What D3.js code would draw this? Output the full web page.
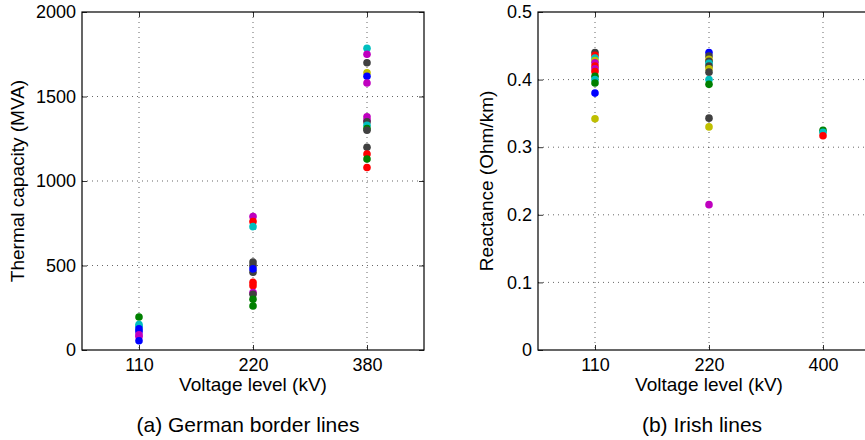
<!DOCTYPE html>
<html>
<head>
<meta charset="utf-8">
<script src="https://cdn.jsdelivr.net/npm/d3@7"></script>
<style>
  html, body { margin: 0; padding: 0; background: #fff; }
  svg { display: block; font-family: "Liberation Sans", Arial, sans-serif; }
</style>
</head>
<body>
<svg id="chart" width="865" height="440"></svg>
<script>
// Voltage categories for each panel
const germanLevels = ["110", "220", "380"];
const irishLevels = ["110", "220", "400"];

// German border lines: thermal capacity (MVA) per line, with the colour code of its marker
const germanLevel = ["110","110","110","110","110","110","110","110",
  "220","220","220","220","220","220","220","220","220","220","220","220","220",
  "380","380","380","380","380","380","380","380","380","380","380","380","380","380","380","380"];
const germanMVA = [195, 150, 140, 125, 110, 90, 80, 55,
  790, 760, 730, 520, 500, 460, 480, 400, 380, 340, 330, 300, 260,
  1785, 1750, 1700, 1640, 1620, 1580, 1380, 1360, 1350, 1330, 1310, 1300, 1200, 1160, 1130, 1080];
const germanCode = ["g","c","c","b","b","m","m","b",
  "m","r","c","k","k","k","b","r","r","m","k","g","g",
  "c","m","k","y","b","m","m","m","k","c","g","k","k","r","g","r"];

// Irish lines: reactance (Ohm/km) per line, with the colour code of its marker
const irishLevel = ["110","110","110","110","110","110","110","110","110","110","110","110","110",
  "220","220","220","220","220","220","220","220","220","220","220","220","220",
  "400","400","400"];
const irishX = [0.440, 0.436, 0.432, 0.428, 0.425, 0.420, 0.416, 0.412, 0.405, 0.400, 0.395, 0.380, 0.342,
  0.440, 0.435, 0.430, 0.427, 0.424, 0.420, 0.416, 0.411, 0.400, 0.393, 0.343, 0.330, 0.215,
  0.325, 0.322, 0.317];
const irishCode = ["k","r","c","y","m","r","m","r","g","c","g","b","y",
  "b","k","y","k","c","k","y","k","c","g","k","y","m",
  "g","c","r"];

// Tick values
const germanTicks = [0, 500, 1000, 1500, 2000];
const irishTicks = [0, 0.1, 0.2, 0.3, 0.4, 0.5];

// MATLAB-style colour order
const palette = { b: "#0000ff", g: "#008000", r: "#ff0000", c: "#00bfbf", m: "#bf00bf", y: "#bfbf00", k: "#404040" };

const svg = d3.select("#chart");

function panel(opts) {
  const { left, top, width, height, levels, levelOf, values, codes, yMax, yTicks, yFormat, yLabel, caption } = opts;
  const g = svg.append("g").attr("transform", `translate(${left},${top})`);

  const x = d3.scalePoint().domain(levels).range([0, width]).padding(0.5);
  const y = d3.scaleLinear().domain([0, yMax]).range([height, 0]);

  // dotted grid
  g.append("g").selectAll("line.gx").data(levels).join("line")
    .attr("x1", d => x(d)).attr("x2", d => x(d)).attr("y1", 0).attr("y2", height)
    .attr("stroke", "#000").attr("stroke-width", 0.6).attr("stroke-dasharray", "1,4");
  g.append("g").selectAll("line.gy").data(yTicks.slice(1, -1)).join("line")
    .attr("x1", 0).attr("x2", width).attr("y1", d => y(d)).attr("y2", d => y(d))
    .attr("stroke", "#000").attr("stroke-width", 0.6).attr("stroke-dasharray", "1,4");

  // markers
  const pts = values.map((v, i) => ({ level: levelOf[i], v, c: codes[i] }));
  g.append("g").selectAll("circle").data(pts).join("circle")
    .attr("cx", d => x(d.level)).attr("cy", d => y(d.v)).attr("r", 3.8)
    .attr("fill", d => palette[d.c]);

  // axes with inward ticks
  g.append("g").attr("transform", `translate(0,${height})`)
    .call(d3.axisBottom(x).tickSizeInner(-5).tickSizeOuter(0).tickPadding(8));
  g.append("g")
    .call(d3.axisLeft(y).tickValues(yTicks).tickFormat(yFormat).tickSizeInner(-5).tickSizeOuter(0).tickPadding(6));
  g.append("g").call(d3.axisTop(x).tickSizeInner(-5).tickSizeOuter(0).tickFormat(""));
  g.append("g").attr("transform", `translate(${width},0)`)
    .call(d3.axisRight(y).tickValues(yTicks).tickSizeInner(-5).tickSizeOuter(0).tickFormat(""));
  g.selectAll(".domain").remove();
  g.selectAll(".tick line").attr("stroke", "#000").attr("stroke-width", 0.8);
  g.selectAll(".tick text").attr("font-size", 18).attr("fill", "#000")
    .attr("font-family", "Liberation Sans, Arial, sans-serif");

  // box
  g.append("rect").attr("x", 0).attr("y", 0).attr("width", width).attr("height", height)
    .attr("fill", "none").attr("stroke", "#000").attr("stroke-width", 1.2);

  g.append("text").attr("x", x(levels[1])).attr("y", height + 41)
    .attr("text-anchor", "middle").attr("font-size", 19).text("Voltage level (kV)");
  g.append("text").attr("transform", `translate(${opts.yLabelX},${height / 2}) rotate(-90)`)
    .attr("text-anchor", "middle").attr("font-size", 19).text(yLabel);
  g.append("text").attr("x", opts.captionX).attr("y", height + 82)
    .attr("text-anchor", "middle").attr("font-size", 21).text(caption);
}

panel({
  left: 82, top: 12, width: 342, height: 338,
  levels: germanLevels, levelOf: germanLevel, values: germanMVA, codes: germanCode,
  yMax: 2000, yTicks: germanTicks, yFormat: d3.format("d"),
  yLabel: "Thermal capacity (MVA)", yLabelX: -58, caption: "(a) German border lines", captionX: 166
});

panel({
  left: 538, top: 12, width: 342, height: 338,
  levels: irishLevels, levelOf: irishLevel, values: irishX, codes: irishCode,
  yMax: 0.5, yTicks: irishTicks, yFormat: d => d === 0 ? "0" : d3.format(".1f")(d),
  yLabel: "Reactance (Ohm/km)", yLabelX: -45, caption: "(b) Irish lines", captionX: 164
});
</script>
</body>
</html>
